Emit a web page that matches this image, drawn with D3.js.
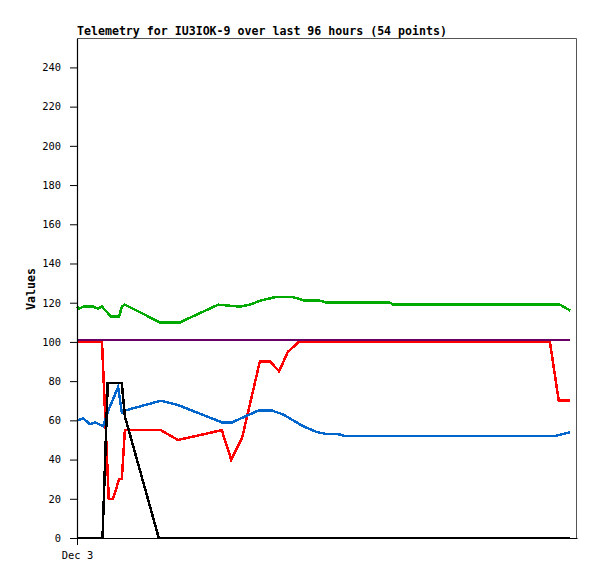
<!DOCTYPE html>
<html>
<head>
<meta charset="utf-8">
<script src="https://cdn.jsdelivr.net/npm/d3@7"></script>
<style>
	body { margin: 0; background: #fff; }
	svg { display: block; }
	.tick text { font-family: 'DejaVu Sans Mono', monospace; font-size: 10.4px; fill: #000; }
	.line { fill: none; stroke-width: 2.5; shape-rendering: crispEdges; }
</style>
</head>
<body>
<script>
// values; times are hours since the start of the window
var greenT = [0, 0.4, 1.2, 3.1, 4.0, 4.8, 6.5, 8.1, 8.6, 9.2, 15.9, 19.8, 27.1, 31.3, 33.2, 35.1, 38.3, 41.3, 43.8, 46.7, 48.0, 60.1, 60.7, 92.7, 94.7],
	greenV = [118, 117, 118, 118, 117, 118, 113, 113, 118, 119, 110, 110, 119, 118, 119, 121, 123, 123, 121, 121, 120, 120, 119, 119, 116];

var purpleT = [0, 94.7],
	purpleV = [101, 101];

var redT = [0, 4.8, 6.1, 6.9, 8.1, 8.6, 9.2, 16.1, 19.4, 27.8, 29.6, 31.7, 35.1, 37.1, 38.8, 40.5, 42.6, 90.8, 92.5, 94.7],
	redV = [100, 100, 20, 20, 30, 30, 55, 55, 50, 55, 40, 51, 90, 90, 85, 95, 100, 100, 70, 70];

var blueT = [0, 1.2, 2.5, 3.5, 5.0, 6.0, 7.9, 8.6, 9.2, 16.1, 19.2, 27.8, 29.8, 34.8, 37.4, 39.6, 43.4, 46.1, 48.0, 50.1, 51.5, 91.8, 94.7],
	blueV = [60, 61, 58, 59, 57, 65, 77, 64, 65, 70, 68, 59, 59, 65, 65, 63, 57, 54, 53, 53, 52, 52, 54];

var blackT = [0, 4.9, 5.9, 8.6, 9.2, 15.7, 94.7],
	blackV = [0, 0, 79, 79, 62, 0, 0];

var yTicks = [0, 20, 40, 60, 80, 100, 120, 140, 160, 180, 200, 220, 240];
var xTicks = [0],
	xTickLabels = ['Dec 3'];

var title = 'Telemetry for IU3IOK-9 over last 96 hours (54 points)';

var margin = { top: 38, right: 20, bottom: 41, left: 77 },
	width = 597 - margin.left - margin.right,
	height = 579 - margin.top - margin.bottom;

var svg = d3.select('body').append('svg')
	.attr('width', 597)
	.attr('height', 579);

var xScale = d3.scaleLinear().domain([0, 96]).range([0, width]),
	yScale = d3.scaleLinear().domain([0, 255]).range([height, 0]);

var g = svg.append('g')
	.attr('transform', `translate(${margin.left}, ${margin.top})`);

// grey frame on top and right
g.append('path')
	.attr('d', `M0.5,0.5H${width - 0.5}V${height}`)
	.attr('fill', 'none')
	.attr('stroke', '#555')
	.attr('stroke-width', 1);

var line = d3.line()
	.x(function(d) { return xScale(d[0]); })
	.y(function(d) { return yScale(d[1]); });

function series(t, v) {
	return t.map(function(d, i) { return [d, v[i]]; });
}

var all = [
	{ data: series(greenT, greenV), color: '#00aa00' },
	{ data: series(redT, redV), color: '#ff0000' },
	{ data: series(purpleT, purpleV), color: '#660066' },
	{ data: series(blueT, blueV), color: '#0066cc' },
	{ data: series(blackT, blackV), color: '#000000' }
];

g.selectAll('.line')
	.data(all)
	.enter().append('path')
	.attr('class', 'line')
	.attr('stroke', function(d) { return d.color; })
	.attr('d', function(d) { return line(d.data); });

// axes
var yAxis = d3.axisLeft(yScale).tickValues(yTicks).tickSize(7).tickSizeOuter(0).tickPadding(9);
var xAxis = d3.axisBottom(xScale).tickValues(xTicks).tickSize(7).tickSizeOuter(0).tickPadding(7)
	.tickFormat(function(d, i) { return xTickLabels[i]; });

var ya = g.append('g').call(yAxis);
var xa = g.append('g').attr('transform', `translate(0, ${height})`).call(xAxis);
[ya, xa].forEach(function(a) {
	a.select('.domain').attr('stroke', '#000').attr('stroke-width', 1.2);
	a.selectAll('.tick line').attr('stroke', '#000');
});

svg.append('text')
	.attr('x', 77)
	.attr('y', 35)
	.attr('font-family', 'DejaVu Sans Mono, monospace')
	.attr('font-weight', 'bold')
	.attr('font-size', '11.6px')
	.text(title);

svg.append('text')
	.attr('transform', 'translate(35, 289) rotate(-90)')
	.attr('text-anchor', 'middle')
	.attr('font-family', 'DejaVu Sans Mono, monospace')
	.attr('font-weight', 'bold')
	.attr('font-size', '11.6px')
	.text('Values');
</script>
</body>
</html>
